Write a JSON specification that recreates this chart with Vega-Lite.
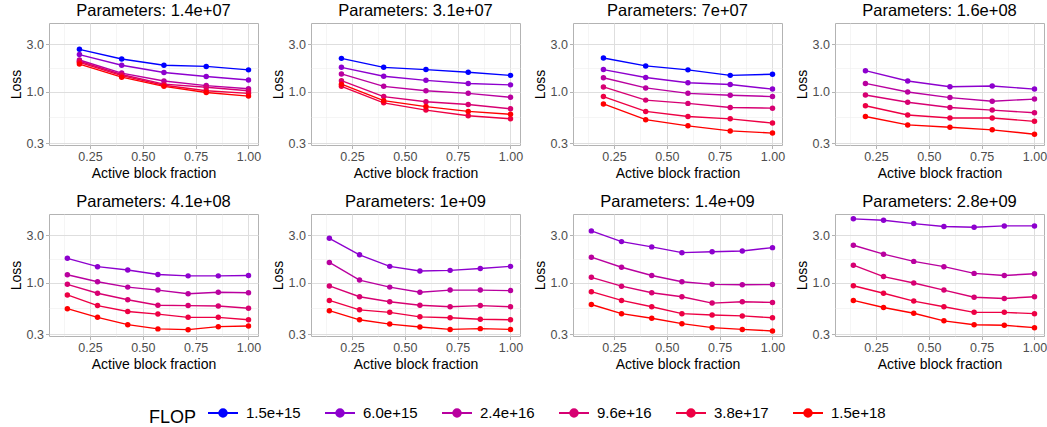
{
 "$schema": "https://vega.github.io/schema/vega-lite/v6.json",
 "padding": {"left": 8, "top": 2, "right": 5, "bottom": 0},
 "background": "white",
 "data": {"values": [
  {"p":"1.4e+07","f":"1.5e+15","x":0.2,"y":2.68},{"p":"1.4e+07","f":"1.5e+15","x":0.4,"y":2.14},{"p":"1.4e+07","f":"1.5e+15","x":0.6,"y":1.85},{"p":"1.4e+07","f":"1.5e+15","x":0.8,"y":1.80},{"p":"1.4e+07","f":"1.5e+15","x":1.0,"y":1.66},
  {"p":"1.4e+07","f":"6.0e+15","x":0.2,"y":2.37},{"p":"1.4e+07","f":"6.0e+15","x":0.4,"y":1.85},{"p":"1.4e+07","f":"6.0e+15","x":0.6,"y":1.56},{"p":"1.4e+07","f":"6.0e+15","x":0.8,"y":1.42},{"p":"1.4e+07","f":"6.0e+15","x":1.0,"y":1.31},
  {"p":"1.4e+07","f":"2.4e+16","x":0.2,"y":2.09},{"p":"1.4e+07","f":"2.4e+16","x":0.4,"y":1.54},{"p":"1.4e+07","f":"2.4e+16","x":0.6,"y":1.28},{"p":"1.4e+07","f":"2.4e+16","x":0.8,"y":1.15},{"p":"1.4e+07","f":"2.4e+16","x":1.0,"y":1.07},
  {"p":"1.4e+07","f":"9.6e+16","x":0.2,"y":2.03},{"p":"1.4e+07","f":"9.6e+16","x":0.4,"y":1.49},{"p":"1.4e+07","f":"9.6e+16","x":0.6,"y":1.19},{"p":"1.4e+07","f":"9.6e+16","x":0.8,"y":1.106},{"p":"1.4e+07","f":"9.6e+16","x":1.0,"y":1.02},
  {"p":"1.4e+07","f":"3.8e+17","x":0.2,"y":1.98},{"p":"1.4e+07","f":"3.8e+17","x":0.4,"y":1.45},{"p":"1.4e+07","f":"3.8e+17","x":0.6,"y":1.16},{"p":"1.4e+07","f":"3.8e+17","x":0.8,"y":1.02},{"p":"1.4e+07","f":"3.8e+17","x":1.0,"y":0.96},
  {"p":"1.4e+07","f":"1.5e+18","x":0.2,"y":1.90},{"p":"1.4e+07","f":"1.5e+18","x":0.4,"y":1.40},{"p":"1.4e+07","f":"1.5e+18","x":0.6,"y":1.13},{"p":"1.4e+07","f":"1.5e+18","x":0.8,"y":0.98},{"p":"1.4e+07","f":"1.5e+18","x":1.0,"y":0.90},

  {"p":"3.1e+07","f":"1.5e+15","x":0.2,"y":2.17},{"p":"3.1e+07","f":"1.5e+15","x":0.4,"y":1.76},{"p":"3.1e+07","f":"1.5e+15","x":0.6,"y":1.67},{"p":"3.1e+07","f":"1.5e+15","x":0.8,"y":1.57},{"p":"3.1e+07","f":"1.5e+15","x":1.0,"y":1.46},
  {"p":"3.1e+07","f":"6.0e+15","x":0.2,"y":1.76},{"p":"3.1e+07","f":"6.0e+15","x":0.4,"y":1.43},{"p":"3.1e+07","f":"6.0e+15","x":0.6,"y":1.30},{"p":"3.1e+07","f":"6.0e+15","x":0.8,"y":1.21},{"p":"3.1e+07","f":"6.0e+15","x":1.0,"y":1.17},
  {"p":"3.1e+07","f":"2.4e+16","x":0.2,"y":1.51},{"p":"3.1e+07","f":"2.4e+16","x":0.4,"y":1.13},{"p":"3.1e+07","f":"2.4e+16","x":0.6,"y":1.02},{"p":"3.1e+07","f":"2.4e+16","x":0.8,"y":0.96},{"p":"3.1e+07","f":"2.4e+16","x":1.0,"y":0.875},
  {"p":"3.1e+07","f":"9.6e+16","x":0.2,"y":1.29},{"p":"3.1e+07","f":"9.6e+16","x":0.4,"y":0.89},{"p":"3.1e+07","f":"9.6e+16","x":0.6,"y":0.79},{"p":"3.1e+07","f":"9.6e+16","x":0.8,"y":0.74},{"p":"3.1e+07","f":"9.6e+16","x":1.0,"y":0.67},
  {"p":"3.1e+07","f":"3.8e+17","x":0.2,"y":1.13},{"p":"3.1e+07","f":"3.8e+17","x":0.4,"y":0.77},{"p":"3.1e+07","f":"3.8e+17","x":0.6,"y":0.65},{"p":"3.1e+07","f":"3.8e+17","x":0.8,"y":0.57},{"p":"3.1e+07","f":"3.8e+17","x":1.0,"y":0.53},
  {"p":"3.1e+07","f":"1.5e+18","x":0.2,"y":1.19},{"p":"3.1e+07","f":"1.5e+18","x":0.4,"y":0.81},{"p":"3.1e+07","f":"1.5e+18","x":0.6,"y":0.705},{"p":"3.1e+07","f":"1.5e+18","x":0.8,"y":0.63},{"p":"3.1e+07","f":"1.5e+18","x":1.0,"y":0.59},

  {"p":"7e+07","f":"1.5e+15","x":0.2,"y":2.19},{"p":"7e+07","f":"1.5e+15","x":0.4,"y":1.82},{"p":"7e+07","f":"1.5e+15","x":0.6,"y":1.66},{"p":"7e+07","f":"1.5e+15","x":0.8,"y":1.46},{"p":"7e+07","f":"1.5e+15","x":1.0,"y":1.50},
  {"p":"7e+07","f":"6.0e+15","x":0.2,"y":1.67},{"p":"7e+07","f":"6.0e+15","x":0.4,"y":1.39},{"p":"7e+07","f":"6.0e+15","x":0.6,"y":1.23},{"p":"7e+07","f":"6.0e+15","x":0.8,"y":1.18},{"p":"7e+07","f":"6.0e+15","x":1.0,"y":1.06},
  {"p":"7e+07","f":"2.4e+16","x":0.2,"y":1.38},{"p":"7e+07","f":"2.4e+16","x":0.4,"y":1.09},{"p":"7e+07","f":"2.4e+16","x":0.6,"y":0.96},{"p":"7e+07","f":"2.4e+16","x":0.8,"y":0.92},{"p":"7e+07","f":"2.4e+16","x":1.0,"y":0.89},
  {"p":"7e+07","f":"9.6e+16","x":0.2,"y":1.115},{"p":"7e+07","f":"9.6e+16","x":0.4,"y":0.82},{"p":"7e+07","f":"9.6e+16","x":0.6,"y":0.76},{"p":"7e+07","f":"9.6e+16","x":0.8,"y":0.69},{"p":"7e+07","f":"9.6e+16","x":1.0,"y":0.68},
  {"p":"7e+07","f":"3.8e+17","x":0.2,"y":0.89},{"p":"7e+07","f":"3.8e+17","x":0.4,"y":0.63},{"p":"7e+07","f":"3.8e+17","x":0.6,"y":0.56},{"p":"7e+07","f":"3.8e+17","x":0.8,"y":0.53},{"p":"7e+07","f":"3.8e+17","x":1.0,"y":0.48},
  {"p":"7e+07","f":"1.5e+18","x":0.2,"y":0.75},{"p":"7e+07","f":"1.5e+18","x":0.4,"y":0.52},{"p":"7e+07","f":"1.5e+18","x":0.6,"y":0.45},{"p":"7e+07","f":"1.5e+18","x":0.8,"y":0.40},{"p":"7e+07","f":"1.5e+18","x":1.0,"y":0.38},

  {"p":"1.6e+08","f":"6.0e+15","x":0.2,"y":1.63},{"p":"1.6e+08","f":"6.0e+15","x":0.4,"y":1.28},{"p":"1.6e+08","f":"6.0e+15","x":0.6,"y":1.12},{"p":"1.6e+08","f":"6.0e+15","x":0.8,"y":1.14},{"p":"1.6e+08","f":"6.0e+15","x":1.0,"y":1.06},
  {"p":"1.6e+08","f":"2.4e+16","x":0.2,"y":1.21},{"p":"1.6e+08","f":"2.4e+16","x":0.4,"y":0.99},{"p":"1.6e+08","f":"2.4e+16","x":0.6,"y":0.87},{"p":"1.6e+08","f":"2.4e+16","x":0.8,"y":0.80},{"p":"1.6e+08","f":"2.4e+16","x":1.0,"y":0.84},
  {"p":"1.6e+08","f":"9.6e+16","x":0.2,"y":0.925},{"p":"1.6e+08","f":"9.6e+16","x":0.4,"y":0.78},{"p":"1.6e+08","f":"9.6e+16","x":0.6,"y":0.69},{"p":"1.6e+08","f":"9.6e+16","x":0.8,"y":0.65},{"p":"1.6e+08","f":"9.6e+16","x":1.0,"y":0.61},
  {"p":"1.6e+08","f":"3.8e+17","x":0.2,"y":0.72},{"p":"1.6e+08","f":"3.8e+17","x":0.4,"y":0.58},{"p":"1.6e+08","f":"3.8e+17","x":0.6,"y":0.54},{"p":"1.6e+08","f":"3.8e+17","x":0.8,"y":0.54},{"p":"1.6e+08","f":"3.8e+17","x":1.0,"y":0.50},
  {"p":"1.6e+08","f":"1.5e+18","x":0.2,"y":0.56},{"p":"1.6e+08","f":"1.5e+18","x":0.4,"y":0.46},{"p":"1.6e+08","f":"1.5e+18","x":0.6,"y":0.435},{"p":"1.6e+08","f":"1.5e+18","x":0.8,"y":0.41},{"p":"1.6e+08","f":"1.5e+18","x":1.0,"y":0.37},

  {"p":"4.1e+08","f":"6.0e+15","x":0.1429,"y":1.76},{"p":"4.1e+08","f":"6.0e+15","x":0.2857,"y":1.45},{"p":"4.1e+08","f":"6.0e+15","x":0.4286,"y":1.34},{"p":"4.1e+08","f":"6.0e+15","x":0.5714,"y":1.21},{"p":"4.1e+08","f":"6.0e+15","x":0.7143,"y":1.17},{"p":"4.1e+08","f":"6.0e+15","x":0.8571,"y":1.17},{"p":"4.1e+08","f":"6.0e+15","x":1.0,"y":1.18},
  {"p":"4.1e+08","f":"2.4e+16","x":0.1429,"y":1.20},{"p":"4.1e+08","f":"2.4e+16","x":0.2857,"y":1.02},{"p":"4.1e+08","f":"2.4e+16","x":0.4286,"y":0.90},{"p":"4.1e+08","f":"2.4e+16","x":0.5714,"y":0.84},{"p":"4.1e+08","f":"2.4e+16","x":0.7143,"y":0.77},{"p":"4.1e+08","f":"2.4e+16","x":0.8571,"y":0.80},{"p":"4.1e+08","f":"2.4e+16","x":1.0,"y":0.79},
  {"p":"4.1e+08","f":"9.6e+16","x":0.1429,"y":0.96},{"p":"4.1e+08","f":"9.6e+16","x":0.2857,"y":0.78},{"p":"4.1e+08","f":"9.6e+16","x":0.4286,"y":0.67},{"p":"4.1e+08","f":"9.6e+16","x":0.5714,"y":0.59},{"p":"4.1e+08","f":"9.6e+16","x":0.7143,"y":0.585},{"p":"4.1e+08","f":"9.6e+16","x":0.8571,"y":0.58},{"p":"4.1e+08","f":"9.6e+16","x":1.0,"y":0.55},
  {"p":"4.1e+08","f":"3.8e+17","x":0.1429,"y":0.75},{"p":"4.1e+08","f":"3.8e+17","x":0.2857,"y":0.585},{"p":"4.1e+08","f":"3.8e+17","x":0.4286,"y":0.51},{"p":"4.1e+08","f":"3.8e+17","x":0.5714,"y":0.48},{"p":"4.1e+08","f":"3.8e+17","x":0.7143,"y":0.445},{"p":"4.1e+08","f":"3.8e+17","x":0.8571,"y":0.445},{"p":"4.1e+08","f":"3.8e+17","x":1.0,"y":0.42},
  {"p":"4.1e+08","f":"1.5e+18","x":0.1429,"y":0.545},{"p":"4.1e+08","f":"1.5e+18","x":0.2857,"y":0.445},{"p":"4.1e+08","f":"1.5e+18","x":0.4286,"y":0.375},{"p":"4.1e+08","f":"1.5e+18","x":0.5714,"y":0.34},{"p":"4.1e+08","f":"1.5e+18","x":0.7143,"y":0.334},{"p":"4.1e+08","f":"1.5e+18","x":0.8571,"y":0.358},{"p":"4.1e+08","f":"1.5e+18","x":1.0,"y":0.364},

  {"p":"1e+09","f":"6.0e+15","x":0.1429,"y":2.81},{"p":"1e+09","f":"6.0e+15","x":0.2857,"y":1.91},{"p":"1e+09","f":"6.0e+15","x":0.4286,"y":1.46},{"p":"1e+09","f":"6.0e+15","x":0.5714,"y":1.31},{"p":"1e+09","f":"6.0e+15","x":0.7143,"y":1.33},{"p":"1e+09","f":"6.0e+15","x":0.8571,"y":1.39},{"p":"1e+09","f":"6.0e+15","x":1.0,"y":1.46},
  {"p":"1e+09","f":"2.4e+16","x":0.1429,"y":1.60},{"p":"1e+09","f":"2.4e+16","x":0.2857,"y":1.06},{"p":"1e+09","f":"2.4e+16","x":0.4286,"y":0.90},{"p":"1e+09","f":"2.4e+16","x":0.5714,"y":0.80},{"p":"1e+09","f":"2.4e+16","x":0.7143,"y":0.84},{"p":"1e+09","f":"2.4e+16","x":0.8571,"y":0.84},{"p":"1e+09","f":"2.4e+16","x":1.0,"y":0.83},
  {"p":"1e+09","f":"9.6e+16","x":0.1429,"y":0.925},{"p":"1e+09","f":"9.6e+16","x":0.2857,"y":0.72},{"p":"1e+09","f":"9.6e+16","x":0.4286,"y":0.64},{"p":"1e+09","f":"9.6e+16","x":0.5714,"y":0.59},{"p":"1e+09","f":"9.6e+16","x":0.7143,"y":0.57},{"p":"1e+09","f":"9.6e+16","x":0.8571,"y":0.585},{"p":"1e+09","f":"9.6e+16","x":1.0,"y":0.57},
  {"p":"1e+09","f":"3.8e+17","x":0.1429,"y":0.66},{"p":"1e+09","f":"3.8e+17","x":0.2857,"y":0.53},{"p":"1e+09","f":"3.8e+17","x":0.4286,"y":0.50},{"p":"1e+09","f":"3.8e+17","x":0.5714,"y":0.45},{"p":"1e+09","f":"3.8e+17","x":0.7143,"y":0.44},{"p":"1e+09","f":"3.8e+17","x":0.8571,"y":0.425},{"p":"1e+09","f":"3.8e+17","x":1.0,"y":0.42},
  {"p":"1e+09","f":"1.5e+18","x":0.1429,"y":0.52},{"p":"1e+09","f":"1.5e+18","x":0.2857,"y":0.42},{"p":"1e+09","f":"1.5e+18","x":0.4286,"y":0.38},{"p":"1e+09","f":"1.5e+18","x":0.5714,"y":0.355},{"p":"1e+09","f":"1.5e+18","x":0.7143,"y":0.336},{"p":"1e+09","f":"1.5e+18","x":0.8571,"y":0.342},{"p":"1e+09","f":"1.5e+18","x":1.0,"y":0.336},

  {"p":"1.4e+09","f":"6.0e+15","x":0.1429,"y":3.34},{"p":"1.4e+09","f":"6.0e+15","x":0.2857,"y":2.60},{"p":"1.4e+09","f":"6.0e+15","x":0.4286,"y":2.30},{"p":"1.4e+09","f":"6.0e+15","x":0.5714,"y":2.01},{"p":"1.4e+09","f":"6.0e+15","x":0.7143,"y":2.05},{"p":"1.4e+09","f":"6.0e+15","x":0.8571,"y":2.09},{"p":"1.4e+09","f":"6.0e+15","x":1.0,"y":2.26},
  {"p":"1.4e+09","f":"2.4e+16","x":0.1429,"y":1.81},{"p":"1.4e+09","f":"2.4e+16","x":0.2857,"y":1.43},{"p":"1.4e+09","f":"2.4e+16","x":0.4286,"y":1.18},{"p":"1.4e+09","f":"2.4e+16","x":0.5714,"y":1.02},{"p":"1.4e+09","f":"2.4e+16","x":0.7143,"y":0.96},{"p":"1.4e+09","f":"2.4e+16","x":0.8571,"y":0.95},{"p":"1.4e+09","f":"2.4e+16","x":1.0,"y":0.955},
  {"p":"1.4e+09","f":"9.6e+16","x":0.1429,"y":1.13},{"p":"1.4e+09","f":"9.6e+16","x":0.2857,"y":0.92},{"p":"1.4e+09","f":"9.6e+16","x":0.4286,"y":0.79},{"p":"1.4e+09","f":"9.6e+16","x":0.5714,"y":0.72},{"p":"1.4e+09","f":"9.6e+16","x":0.7143,"y":0.62},{"p":"1.4e+09","f":"9.6e+16","x":0.8571,"y":0.64},{"p":"1.4e+09","f":"9.6e+16","x":1.0,"y":0.63},
  {"p":"1.4e+09","f":"3.8e+17","x":0.1429,"y":0.81},{"p":"1.4e+09","f":"3.8e+17","x":0.2857,"y":0.66},{"p":"1.4e+09","f":"3.8e+17","x":0.4286,"y":0.57},{"p":"1.4e+09","f":"3.8e+17","x":0.5714,"y":0.485},{"p":"1.4e+09","f":"3.8e+17","x":0.7143,"y":0.47},{"p":"1.4e+09","f":"3.8e+17","x":0.8571,"y":0.46},{"p":"1.4e+09","f":"3.8e+17","x":1.0,"y":0.44},
  {"p":"1.4e+09","f":"1.5e+18","x":0.1429,"y":0.60},{"p":"1.4e+09","f":"1.5e+18","x":0.2857,"y":0.485},{"p":"1.4e+09","f":"1.5e+18","x":0.4286,"y":0.435},{"p":"1.4e+09","f":"1.5e+18","x":0.5714,"y":0.384},{"p":"1.4e+09","f":"1.5e+18","x":0.7143,"y":0.35},{"p":"1.4e+09","f":"1.5e+18","x":0.8571,"y":0.336},{"p":"1.4e+09","f":"1.5e+18","x":1.0,"y":0.324},

  {"p":"2.8e+09","f":"6.0e+15","x":0.1429,"y":4.42},{"p":"2.8e+09","f":"6.0e+15","x":0.2857,"y":4.28},{"p":"2.8e+09","f":"6.0e+15","x":0.4286,"y":3.96},{"p":"2.8e+09","f":"6.0e+15","x":0.5714,"y":3.70},{"p":"2.8e+09","f":"6.0e+15","x":0.7143,"y":3.64},{"p":"2.8e+09","f":"6.0e+15","x":0.8571,"y":3.75},{"p":"2.8e+09","f":"6.0e+15","x":1.0,"y":3.75},
  {"p":"2.8e+09","f":"2.4e+16","x":0.1429,"y":2.39},{"p":"2.8e+09","f":"2.4e+16","x":0.2857,"y":1.94},{"p":"2.8e+09","f":"2.4e+16","x":0.4286,"y":1.64},{"p":"2.8e+09","f":"2.4e+16","x":0.5714,"y":1.45},{"p":"2.8e+09","f":"2.4e+16","x":0.7143,"y":1.24},{"p":"2.8e+09","f":"2.4e+16","x":0.8571,"y":1.18},{"p":"2.8e+09","f":"2.4e+16","x":1.0,"y":1.23},
  {"p":"2.8e+09","f":"9.6e+16","x":0.1429,"y":1.50},{"p":"2.8e+09","f":"9.6e+16","x":0.2857,"y":1.15},{"p":"2.8e+09","f":"9.6e+16","x":0.4286,"y":0.99},{"p":"2.8e+09","f":"9.6e+16","x":0.5714,"y":0.84},{"p":"2.8e+09","f":"9.6e+16","x":0.7143,"y":0.71},{"p":"2.8e+09","f":"9.6e+16","x":0.8571,"y":0.69},{"p":"2.8e+09","f":"9.6e+16","x":1.0,"y":0.72},
  {"p":"2.8e+09","f":"3.8e+17","x":0.1429,"y":0.93},{"p":"2.8e+09","f":"3.8e+17","x":0.2857,"y":0.78},{"p":"2.8e+09","f":"3.8e+17","x":0.4286,"y":0.65},{"p":"2.8e+09","f":"3.8e+17","x":0.5714,"y":0.57},{"p":"2.8e+09","f":"3.8e+17","x":0.7143,"y":0.50},{"p":"2.8e+09","f":"3.8e+17","x":0.8571,"y":0.50},{"p":"2.8e+09","f":"3.8e+17","x":1.0,"y":0.485},
  {"p":"2.8e+09","f":"1.5e+18","x":0.1429,"y":0.66},{"p":"2.8e+09","f":"1.5e+18","x":0.2857,"y":0.56},{"p":"2.8e+09","f":"1.5e+18","x":0.4286,"y":0.49},{"p":"2.8e+09","f":"1.5e+18","x":0.5714,"y":0.41},{"p":"2.8e+09","f":"1.5e+18","x":0.7143,"y":0.375},{"p":"2.8e+09","f":"1.5e+18","x":0.8571,"y":0.37},{"p":"2.8e+09","f":"1.5e+18","x":1.0,"y":0.35}
 ]},
 "facet": {
  "field": "p", "type": "nominal",
  "sort": ["1.4e+07","3.1e+07","7e+07","1.6e+08","4.1e+08","1e+09","1.4e+09","2.8e+09"],
  "header": {"title": null, "labelExpr": "'Parameters: ' + datum.value", "labelFont": "Liberation Sans", "labelFontSize": 16.5, "labelColor": "black", "labelPadding": 4}
 },
 "columns": 4,
 "spacing": {"row": 12, "column": 8},
 "resolve": {"axis": {"x": "independent", "y": "independent"}},
 "spec": {
  "width": 209,
  "height": 122,
  "encoding": {
   "x": {"field": "x", "type": "quantitative",
     "scale": {"domain": [0.056, 1.045], "nice": false, "zero": false},
     "axis": {"title": "Active block fraction",
       "values": [0.125, 0.25, 0.375, 0.5, 0.625, 0.75, 0.875, 1.0],
       "labelExpr": "datum.value % 0.25 == 0 ? format(datum.value, '.2f') : ''",
       "gridColor": {"condition": {"test": "datum.value % 0.25 == 0", "value": "#DEDEDE"}, "value": "#EFEFEF"},
       "gridWidth": {"condition": {"test": "datum.value % 0.25 == 0", "value": 1}, "value": 0.6},
       "tickOpacity": {"condition": {"test": "datum.value % 0.25 == 0", "value": 1}, "value": 0}
     }},
   "y": {"field": "y", "type": "quantitative",
     "scale": {"type": "log", "domain": [0.288, 4.95], "nice": false},
     "axis": {"title": "Loss",
       "values": [0.3, 0.5477, 1, 1.7321, 3],
       "labelExpr": "(datum.value == 0.3 || datum.value == 1 || datum.value == 3) ? format(datum.value, '.1f') : ''",
       "gridColor": {"condition": {"test": "datum.value == 0.3 || datum.value == 1 || datum.value == 3", "value": "#DEDEDE"}, "value": "#EFEFEF"},
       "gridWidth": {"condition": {"test": "datum.value == 0.3 || datum.value == 1 || datum.value == 3", "value": 1}, "value": 0.6},
       "tickOpacity": {"condition": {"test": "datum.value == 0.3 || datum.value == 1 || datum.value == 3", "value": 1}, "value": 0}
     }},
   "color": {"field": "f", "type": "nominal",
     "scale": {"domain": ["1.5e+15","6.0e+15","2.4e+16","9.6e+16","3.8e+17","1.5e+18"],
               "range": ["#0000FF","#8D00CE","#B9009F","#D70072","#ED0044","#FF0000"]},
     "legend": {"title": "FLOP", "orient": "none", "legendX": 100, "legendY": 374}}
  },
  "layer": [
   {"mark": {"type": "line", "strokeWidth": 1.4}},
   {"mark": {"type": "point", "filled": true, "size": 30, "opacity": 1}}
  ]
 },
 "config": {
  "font": "Liberation Sans",
  "view": {"stroke": "#B3B3B3", "strokeWidth": 1},
  "axis": {"domain": false, "tickColor": "#B3B3B3", "tickSize": 3.5,
    "labelFont": "Liberation Sans", "labelFontSize": 12.5, "labelColor": "#4D4D4D", "labelPadding": 2,
    "titleFont": "Liberation Sans", "titleFontSize": 14, "titleFontWeight": "normal", "titleColor": "black", "titlePadding": 3},
  "legend": {"direction": "horizontal", "titleOrient": "left", "titleBaseline": "top", "titlePadding": 10,
    "titleFont": "Liberation Sans", "titleFontSize": 18, "titleFontWeight": "normal", "titleColor": "black",
    "labelFont": "Liberation Sans", "labelFontSize": 15, "labelColor": "black", "labelOffset": 7,
    "symbolType": "M-1,0L1,0M-0.25,0A0.25,0.25 0 1,0 0.25,0A0.25,0.25 0 1,0 -0.25,0Z",
    "symbolSize": 900, "symbolStrokeWidth": 2, "columnPadding": 20}
 }
}
